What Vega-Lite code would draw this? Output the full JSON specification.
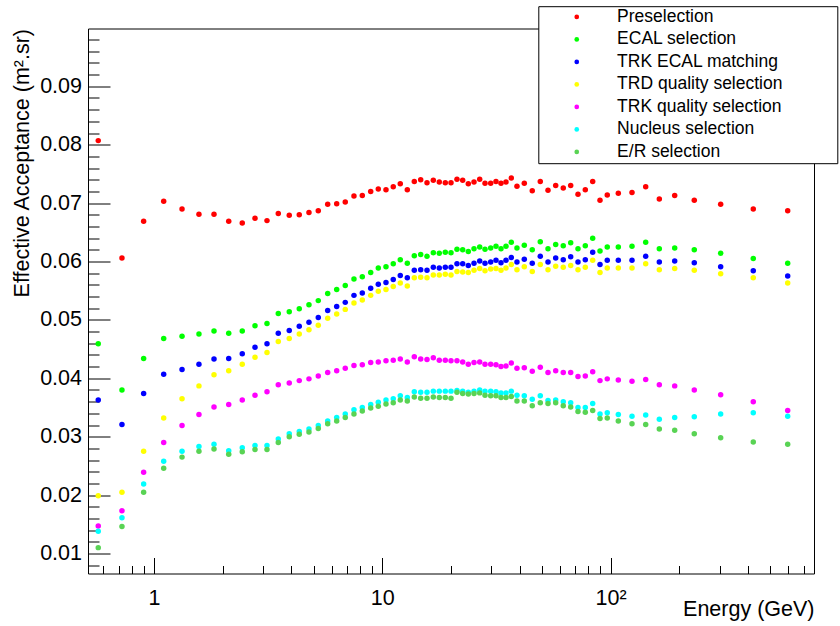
{
  "$schema": "https://vega.github.io/schema/vega-lite/v6.json",
  "width": 726,
  "height": 545,
  "autosize": {"type": "none"},
  "padding": {"left": 88, "top": 28.5, "right": 26, "bottom": 52.5},
  "background": "white",
  "config": {"view": {"stroke": "black", "strokeWidth": 1}, "font": "Liberation Sans"},
  "data": {"values": [
    {"E":0.570,"Preselection":0.0807,"ECAL selection":0.0459,"TRK ECAL matching":0.0363,"TRD quality selection":0.0199,"TRK quality selection":0.0147,"Nucleus selection":0.0138,"E/R selection":0.0110},
    {"E":0.724,"Preselection":0.0606,"ECAL selection":0.0380,"TRK ECAL matching":0.0321,"TRD quality selection":0.0205,"TRK quality selection":0.0173,"Nucleus selection":0.0161,"E/R selection":0.0146},
    {"E":0.901,"Preselection":0.0669,"ECAL selection":0.0434,"TRK ECAL matching":0.0374,"TRD quality selection":0.0275,"TRK quality selection":0.0239,"Nucleus selection":0.0219,"E/R selection":0.0205},
    {"E":1.103,"Preselection":0.0703,"ECAL selection":0.0468,"TRK ECAL matching":0.0407,"TRD quality selection":0.0332,"TRK quality selection":0.0290,"Nucleus selection":0.0258,"E/R selection":0.0246},
    {"E":1.327,"Preselection":0.0690,"ECAL selection":0.0472,"TRK ECAL matching":0.0415,"TRD quality selection":0.0365,"TRK quality selection":0.0319,"Nucleus selection":0.0275,"E/R selection":0.0265},
    {"E":1.574,"Preselection":0.0681,"ECAL selection":0.0476,"TRK ECAL matching":0.0424,"TRD quality selection":0.0387,"TRK quality selection":0.0338,"Nucleus selection":0.0283,"E/R selection":0.0275},
    {"E":1.832,"Preselection":0.0681,"ECAL selection":0.0481,"TRK ECAL matching":0.0433,"TRD quality selection":0.0406,"TRK quality selection":0.0351,"Nucleus selection":0.0287,"E/R selection":0.0279},
    {"E":2.125,"Preselection":0.0669,"ECAL selection":0.0477,"TRK ECAL matching":0.0434,"TRD quality selection":0.0413,"TRK quality selection":0.0355,"Nucleus selection":0.0276,"E/R selection":0.0270},
    {"E":2.436,"Preselection":0.0666,"ECAL selection":0.0481,"TRK ECAL matching":0.0442,"TRD quality selection":0.0424,"TRK quality selection":0.0363,"Nucleus selection":0.0281,"E/R selection":0.0274},
    {"E":2.770,"Preselection":0.0674,"ECAL selection":0.0490,"TRK ECAL matching":0.0453,"TRD quality selection":0.0436,"TRK quality selection":0.0371,"Nucleus selection":0.0285,"E/R selection":0.0278},
    {"E":3.126,"Preselection":0.0670,"ECAL selection":0.0494,"TRK ECAL matching":0.0459,"TRD quality selection":0.0444,"TRK quality selection":0.0377,"Nucleus selection":0.0285,"E/R selection":0.0278},
    {"E":3.503,"Preselection":0.0682,"ECAL selection":0.0511,"TRK ECAL matching":0.0477,"TRD quality selection":0.0463,"TRK quality selection":0.0389,"Nucleus selection":0.0296,"E/R selection":0.0290},
    {"E":3.913,"Preselection":0.0679,"ECAL selection":0.0514,"TRK ECAL matching":0.0482,"TRD quality selection":0.0468,"TRK quality selection":0.0392,"Nucleus selection":0.0305,"E/R selection":0.0300},
    {"E":4.329,"Preselection":0.0680,"ECAL selection":0.0519,"TRK ECAL matching":0.0489,"TRD quality selection":0.0476,"TRK quality selection":0.0396,"Nucleus selection":0.0309,"E/R selection":0.0304},
    {"E":4.774,"Preselection":0.0684,"ECAL selection":0.0526,"TRK ECAL matching":0.0496,"TRD quality selection":0.0483,"TRK quality selection":0.0399,"Nucleus selection":0.0313,"E/R selection":0.0308},
    {"E":5.244,"Preselection":0.0687,"ECAL selection":0.0533,"TRK ECAL matching":0.0504,"TRD quality selection":0.0491,"TRK quality selection":0.0404,"Nucleus selection":0.0319,"E/R selection":0.0314},
    {"E":5.766,"Preselection":0.0698,"ECAL selection":0.0545,"TRK ECAL matching":0.0516,"TRD quality selection":0.0503,"TRK quality selection":0.0410,"Nucleus selection":0.0327,"E/R selection":0.0322},
    {"E":6.314,"Preselection":0.0699,"ECAL selection":0.0552,"TRK ECAL matching":0.0523,"TRD quality selection":0.0510,"TRK quality selection":0.0413,"Nucleus selection":0.0333,"E/R selection":0.0327},
    {"E":6.884,"Preselection":0.0702,"ECAL selection":0.0559,"TRK ECAL matching":0.0530,"TRD quality selection":0.0518,"TRK quality selection":0.0417,"Nucleus selection":0.0339,"E/R selection":0.0333},
    {"E":7.516,"Preselection":0.0712,"ECAL selection":0.0570,"TRK ECAL matching":0.0542,"TRD quality selection":0.0529,"TRK quality selection":0.0422,"Nucleus selection":0.0346,"E/R selection":0.0339},
    {"E":8.174,"Preselection":0.0713,"ECAL selection":0.0574,"TRK ECAL matching":0.0546,"TRD quality selection":0.0534,"TRK quality selection":0.0423,"Nucleus selection":0.0350,"E/R selection":0.0344},
    {"E":8.897,"Preselection":0.0720,"ECAL selection":0.0581,"TRK ECAL matching":0.0554,"TRD quality selection":0.0542,"TRK quality selection":0.0427,"Nucleus selection":0.0355,"E/R selection":0.0349},
    {"E":9.605,"Preselection":0.0724,"ECAL selection":0.0589,"TRK ECAL matching":0.0561,"TRD quality selection":0.0549,"TRK quality selection":0.0428,"Nucleus selection":0.0359,"E/R selection":0.0352},
    {"E":10.38,"Preselection":0.0723,"ECAL selection":0.0591,"TRK ECAL matching":0.0564,"TRD quality selection":0.0552,"TRK quality selection":0.0430,"Nucleus selection":0.0363,"E/R selection":0.0356},
    {"E":11.17,"Preselection":0.0728,"ECAL selection":0.0596,"TRK ECAL matching":0.0569,"TRD quality selection":0.0557,"TRK quality selection":0.0431,"Nucleus selection":0.0365,"E/R selection":0.0358},
    {"E":11.99,"Preselection":0.0733,"ECAL selection":0.0603,"TRK ECAL matching":0.0576,"TRD quality selection":0.0563,"TRK quality selection":0.0433,"Nucleus selection":0.0370,"E/R selection":0.0363},
    {"E":12.87,"Preselection":0.0723,"ECAL selection":0.0597,"TRK ECAL matching":0.0572,"TRD quality selection":0.0558,"TRK quality selection":0.0428,"Nucleus selection":0.0367,"E/R selection":0.0361},
    {"E":13.81,"Preselection":0.0737,"ECAL selection":0.0610,"TRK ECAL matching":0.0585,"TRD quality selection":0.0572,"TRK quality selection":0.0437,"Nucleus selection":0.0377,"E/R selection":0.0368},
    {"E":14.73,"Preselection":0.0740,"ECAL selection":0.0612,"TRK ECAL matching":0.0586,"TRD quality selection":0.0573,"TRK quality selection":0.0433,"Nucleus selection":0.0376,"E/R selection":0.0366},
    {"E":15.70,"Preselection":0.0735,"ECAL selection":0.0609,"TRK ECAL matching":0.0585,"TRD quality selection":0.0572,"TRK quality selection":0.0432,"Nucleus selection":0.0376,"E/R selection":0.0366},
    {"E":16.73,"Preselection":0.0739,"ECAL selection":0.0615,"TRK ECAL matching":0.0590,"TRD quality selection":0.0577,"TRK quality selection":0.0435,"Nucleus selection":0.0378,"E/R selection":0.0368},
    {"E":17.77,"Preselection":0.0736,"ECAL selection":0.0614,"TRK ECAL matching":0.0589,"TRD quality selection":0.0577,"TRK quality selection":0.0431,"Nucleus selection":0.0378,"E/R selection":0.0367},
    {"E":18.88,"Preselection":0.0735,"ECAL selection":0.0616,"TRK ECAL matching":0.0590,"TRD quality selection":0.0578,"TRK quality selection":0.0431,"Nucleus selection":0.0378,"E/R selection":0.0367},
    {"E":20.00,"Preselection":0.0735,"ECAL selection":0.0615,"TRK ECAL matching":0.0590,"TRD quality selection":0.0577,"TRK quality selection":0.0430,"Nucleus selection":0.0378,"E/R selection":0.0366},
    {"E":21.24,"Preselection":0.0741,"ECAL selection":0.0621,"TRK ECAL matching":0.0596,"TRD quality selection":0.0583,"TRK quality selection":0.0430,"Nucleus selection":0.0379,"E/R selection":0.0376},
    {"E":22.50,"Preselection":0.0739,"ECAL selection":0.0620,"TRK ECAL matching":0.0596,"TRD quality selection":0.0582,"TRK quality selection":0.0428,"Nucleus selection":0.0378,"E/R selection":0.0374},
    {"E":23.81,"Preselection":0.0733,"ECAL selection":0.0617,"TRK ECAL matching":0.0593,"TRD quality selection":0.0581,"TRK quality selection":0.0424,"Nucleus selection":0.0376,"E/R selection":0.0373},
    {"E":25.22,"Preselection":0.0736,"ECAL selection":0.0622,"TRK ECAL matching":0.0597,"TRD quality selection":0.0585,"TRK quality selection":0.0427,"Nucleus selection":0.0378,"E/R selection":0.0374},
    {"E":26.71,"Preselection":0.0741,"ECAL selection":0.0625,"TRK ECAL matching":0.0601,"TRD quality selection":0.0588,"TRK quality selection":0.0428,"Nucleus selection":0.0380,"E/R selection":0.0375},
    {"E":28.18,"Preselection":0.0734,"ECAL selection":0.0621,"TRK ECAL matching":0.0597,"TRD quality selection":0.0584,"TRK quality selection":0.0424,"Nucleus selection":0.0378,"E/R selection":0.0371},
    {"E":29.84,"Preselection":0.0734,"ECAL selection":0.0623,"TRK ECAL matching":0.0599,"TRD quality selection":0.0587,"TRK quality selection":0.0424,"Nucleus selection":0.0378,"E/R selection":0.0370},
    {"E":31.48,"Preselection":0.0737,"ECAL selection":0.0626,"TRK ECAL matching":0.0602,"TRD quality selection":0.0588,"TRK quality selection":0.0423,"Nucleus selection":0.0377,"E/R selection":0.0370},
    {"E":33.11,"Preselection":0.0734,"ECAL selection":0.0622,"TRK ECAL matching":0.0598,"TRD quality selection":0.0585,"TRK quality selection":0.0420,"Nucleus selection":0.0375,"E/R selection":0.0367},
    {"E":34.82,"Preselection":0.0736,"ECAL selection":0.0626,"TRK ECAL matching":0.0602,"TRD quality selection":0.0589,"TRK quality selection":0.0421,"Nucleus selection":0.0375,"E/R selection":0.0367},
    {"E":36.73,"Preselection":0.0743,"ECAL selection":0.0633,"TRK ECAL matching":0.0607,"TRD quality selection":0.0595,"TRK quality selection":0.0426,"Nucleus selection":0.0378,"E/R selection":0.0369},
    {"E":38.90,"Preselection":0.0729,"ECAL selection":0.0623,"TRK ECAL matching":0.0599,"TRD quality selection":0.0586,"TRK quality selection":0.0417,"Nucleus selection":0.0371,"E/R selection":0.0361},
    {"E":41.88,"Preselection":0.0734,"ECAL selection":0.0628,"TRK ECAL matching":0.0604,"TRD quality selection":0.0591,"TRK quality selection":0.0418,"Nucleus selection":0.0370,"E/R selection":0.0361},
    {"E":45.39,"Preselection":0.0721,"ECAL selection":0.0620,"TRK ECAL matching":0.0597,"TRD quality selection":0.0583,"TRK quality selection":0.0412,"Nucleus selection":0.0364,"E/R selection":0.0353},
    {"E":49.21,"Preselection":0.0737,"ECAL selection":0.0634,"TRK ECAL matching":0.0609,"TRD quality selection":0.0595,"TRK quality selection":0.0419,"Nucleus selection":0.0370,"E/R selection":0.0358},
    {"E":53.19,"Preselection":0.0722,"ECAL selection":0.0622,"TRK ECAL matching":0.0599,"TRD quality selection":0.0586,"TRK quality selection":0.0410,"Nucleus selection":0.0362,"E/R selection":0.0357},
    {"E":57.48,"Preselection":0.0730,"ECAL selection":0.0629,"TRK ECAL matching":0.0606,"TRD quality selection":0.0592,"TRK quality selection":0.0413,"Nucleus selection":0.0363,"E/R selection":0.0358},
    {"E":62.05,"Preselection":0.0726,"ECAL selection":0.0627,"TRK ECAL matching":0.0603,"TRD quality selection":0.0590,"TRK quality selection":0.0410,"Nucleus selection":0.0360,"E/R selection":0.0353},
    {"E":66.88,"Preselection":0.0730,"ECAL selection":0.0632,"TRK ECAL matching":0.0608,"TRD quality selection":0.0593,"TRK quality selection":0.0410,"Nucleus selection":0.0358,"E/R selection":0.0351},
    {"E":71.98,"Preselection":0.0715,"ECAL selection":0.0622,"TRK ECAL matching":0.0599,"TRD quality selection":0.0586,"TRK quality selection":0.0403,"Nucleus selection":0.0350,"E/R selection":0.0343},
    {"E":77.49,"Preselection":0.0723,"ECAL selection":0.0627,"TRK ECAL matching":0.0603,"TRD quality selection":0.0590,"TRK quality selection":0.0404,"Nucleus selection":0.0350,"E/R selection":0.0342},
    {"E":83.49,"Preselection":0.0737,"ECAL selection":0.0640,"TRK ECAL matching":0.0616,"TRD quality selection":0.0602,"TRK quality selection":0.0411,"Nucleus selection":0.0357,"E/R selection":0.0345},
    {"E":89.87,"Preselection":0.0705,"ECAL selection":0.0618,"TRK ECAL matching":0.0595,"TRD quality selection":0.0581,"TRK quality selection":0.0396,"Nucleus selection":0.0339,"E/R selection":0.0331},
    {"E":96.7,"Preselection":0.0714,"ECAL selection":0.0625,"TRK ECAL matching":0.0602,"TRD quality selection":0.0589,"TRK quality selection":0.0399,"Nucleus selection":0.0341,"E/R selection":0.0332},
    {"E":108.1,"Preselection":0.0717,"ECAL selection":0.0625,"TRK ECAL matching":0.0602,"TRD quality selection":0.0589,"TRK quality selection":0.0397,"Nucleus selection":0.0338,"E/R selection":0.0327},
    {"E":124.1,"Preselection":0.0718,"ECAL selection":0.0626,"TRK ECAL matching":0.0602,"TRD quality selection":0.0589,"TRK quality selection":0.0395,"Nucleus selection":0.0335,"E/R selection":0.0322},
    {"E":142.5,"Preselection":0.0728,"ECAL selection":0.0633,"TRK ECAL matching":0.0609,"TRD quality selection":0.0596,"TRK quality selection":0.0398,"Nucleus selection":0.0337,"E/R selection":0.0321},
    {"E":163.5,"Preselection":0.0707,"ECAL selection":0.0622,"TRK ECAL matching":0.0599,"TRD quality selection":0.0586,"TRK quality selection":0.0389,"Nucleus selection":0.0330,"E/R selection":0.0313},
    {"E":190.9,"Preselection":0.0713,"ECAL selection":0.0623,"TRK ECAL matching":0.0601,"TRD quality selection":0.0588,"TRK quality selection":0.0387,"Nucleus selection":0.0333,"E/R selection":0.0311},
    {"E":232.6,"Preselection":0.0705,"ECAL selection":0.0620,"TRK ECAL matching":0.0598,"TRD quality selection":0.0585,"TRK quality selection":0.0380,"Nucleus selection":0.0334,"E/R selection":0.0305},
    {"E":303.5,"Preselection":0.0698,"ECAL selection":0.0614,"TRK ECAL matching":0.0591,"TRD quality selection":0.0579,"TRK quality selection":0.0372,"Nucleus selection":0.0339,"E/R selection":0.0298},
    {"E":421.7,"Preselection":0.0690,"ECAL selection":0.0605,"TRK ECAL matching":0.0584,"TRD quality selection":0.0572,"TRK quality selection":0.0360,"Nucleus selection":0.0341,"E/R selection":0.0291},
    {"E":596.8,"Preselection":0.0687,"ECAL selection":0.0597,"TRK ECAL matching":0.0575,"TRD quality selection":0.0563,"TRK quality selection":0.0345,"Nucleus selection":0.0335,"E/R selection":0.0287}
  ]},
  "transform": [
    {"fold": ["Preselection","ECAL selection","TRK ECAL matching","TRD quality selection","TRK quality selection","Nucleus selection","E/R selection"], "as": ["series","value"]}
  ],
  "encoding": {
    "color": {
      "field": "series", "type": "nominal",
      "scale": {
        "domain": ["Preselection","ECAL selection","TRK ECAL matching","TRD quality selection","TRK quality selection","Nucleus selection","E/R selection"],
        "range": ["#ff0000","#00ff00","#0000ff","#ffff00","#ff00ff","#00ffff","#59d354"]
      },
      "legend": {
        "orient": "none", "legendX": 450.3, "legendY": -22.3, "title": null,
        "strokeColor": "black", "fillColor": "white", "padding": 2,
        "symbolType": "circle", "symbolSize": 22, "symbolOffset": 27.7, "symbolStrokeWidth": 0,
        "labelFontSize": 17.5, "labelColor": "black", "labelOffset": 31.6, "labelLimit": 400, "rowPadding": 3.5,
        "labelExpr": "datum.label + '\u2800\u2800\u2800\u2800'"
      }
    }
  },
  "layer": [
    {
      "transform": [{"filter": {"field": "series", "oneOf": ["Preselection","ECAL selection","TRK ECAL matching","TRD quality selection"]}}],
      "mark": {"type": "circle", "size": 30, "opacity": 1},
      "encoding": {
        "x": {
          "field": "E", "type": "quantitative",
          "scale": {"type": "log", "domain": [0.514, 778], "nice": false},
          "axis": {
            "orient": "bottom", "offset": -16, "tickSize": 16, "domain": false,
            "values": [1, 10, 100],
            "labelExpr": "datum.value == 1 ? '1' : datum.value == 10 ? '10' : '10²'",
            "grid": false, "ticks": true, "tickColor": "black", "tickWidth": 1,
            "labelFontSize": 21.5, "labelColor": "black", "labelPadding": 13.5, "labelFlush": false, "labelOverlap": false,
            "title": "Energy (GeV)", "titleFontSize": 21.5, "titleFontWeight": "normal", "titleColor": "black",
            "titleAlign": "right", "titleAnchor": "end", "titleBaseline": "alphabetic", "titleX": 726, "titleY": 58
          }
        },
        "y": {
          "field": "value", "type": "quantitative",
          "scale": {"domain": [0.00657, 0.0999], "nice": false, "zero": false},
          "axis": {
            "orient": "left", "offset": -22, "tickSize": 22, "domain": false,
            "values": [0.01, 0.02, 0.03, 0.04, 0.05, 0.06, 0.07, 0.08, 0.09],
            "format": ".2f",
            "grid": false, "ticks": true, "tickColor": "black", "tickWidth": 1,
            "labelFontSize": 21.5, "labelColor": "black", "labelPadding": 6.5, "labelOverlap": false, "labelFlush": false,
            "title": "Effective Acceptance (m².sr)", "titleFontSize": 21.5, "titleFontWeight": "normal", "titleColor": "black",
            "titleAngle": -90, "titleAlign": "right", "titleAnchor": "end", "titleBaseline": "alphabetic", "titleX": -82, "titleY": 0
          }
        }
      }
    },
    {
      "transform": [{"filter": {"field": "series", "oneOf": ["TRK quality selection","Nucleus selection","E/R selection"]}}],
      "mark": {"type": "circle", "size": 30, "opacity": 1},
      "encoding": {
        "x": {
          "field": "E", "type": "quantitative",
          "scale": {"type": "log", "domain": [0.514, 778], "nice": false},
          "axis": {
            "orient": "bottom", "offset": -8, "tickSize": 8, "domain": false, "labels": false, "title": null,
            "values": [0.6,0.7,0.8,0.9,2,3,4,5,6,7,8,9,20,30,40,50,60,70,80,90,200,300,400,500,600,700],
            "grid": false, "ticks": true, "tickColor": "black", "tickWidth": 1
          }
        },
        "y": {
          "field": "value", "type": "quantitative",
          "scale": {"domain": [0.00657, 0.0999], "nice": false, "zero": false},
          "axis": {
            "orient": "left", "offset": -11, "tickSize": 11, "domain": false, "labels": false, "title": null,
            "values": [0.008,0.012,0.014,0.016,0.018,0.022,0.024,0.026,0.028,0.032,0.034,0.036,0.038,0.042,0.044,0.046,0.048,0.052,0.054,0.056,0.058,0.062,0.064,0.066,0.068,0.072,0.074,0.076,0.078,0.082,0.084,0.086,0.088,0.092,0.094,0.096,0.098],
            "grid": false, "ticks": true, "tickColor": "black", "tickWidth": 1
          }
        }
      }
    }
  ],
  "resolve": {"scale": {"x": "independent", "y": "independent"}, "axis": {"x": "independent", "y": "independent"}}
}
